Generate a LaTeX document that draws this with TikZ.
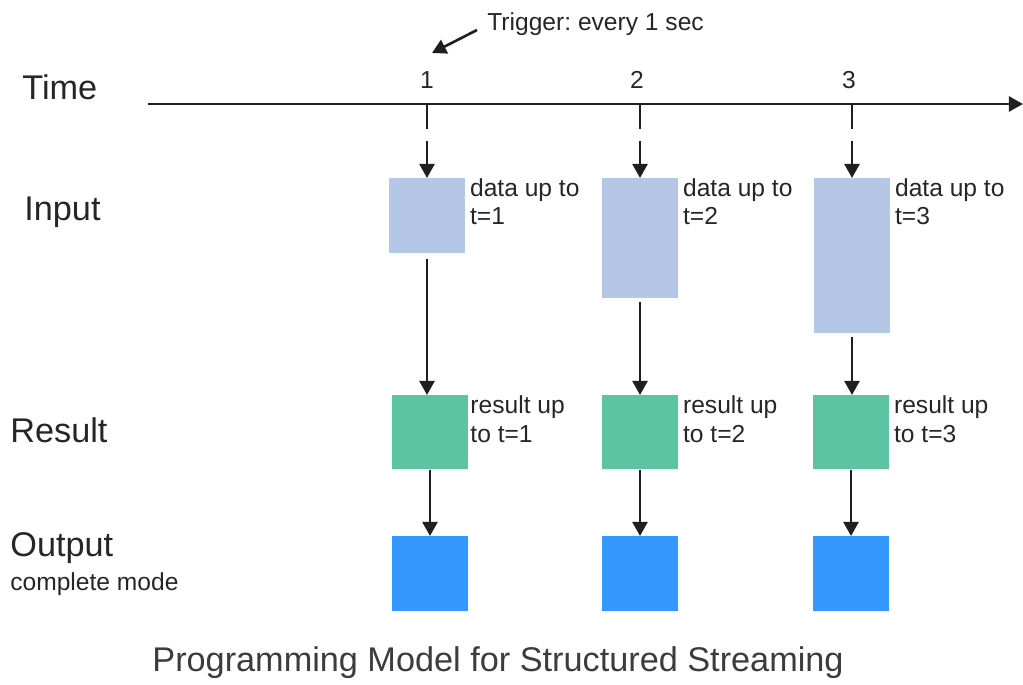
\documentclass[tikz,border=0pt]{standalone}
\usepackage{fontspec}
\setmainfont{Liberation Sans}
\frenchspacing
\usetikzlibrary{arrows.meta,positioning}

\definecolor{inblue}{HTML}{B4C7E7}
\definecolor{resgreen}{HTML}{5CC4A0}
\definecolor{outblue}{HTML}{3399FF}
\definecolor{txt}{HTML}{262626}

\tikzstyle{bigtext} = [text=txt, inner sep=0pt, font=\fontsize{19.5}{23}\selectfont]
\tikzstyle{smalltext} = [text=txt, inner sep=0pt, align=left, font=\fontsize{14}{16.4}\selectfont]
\tikzstyle{box} = [rectangle, minimum width=1.52cm, inner sep=0pt, anchor=north]
\tikzstyle{inbox} = [box, fill=inblue]
\tikzstyle{resbox} = [box, fill=resgreen, minimum height=1.48cm]
\tikzstyle{outbox} = [box, fill=outblue, minimum height=1.5cm]
\tikzstyle{arrow} = [line width=1.5pt, black!88, -{Triangle[length=8pt,width=8.5pt]}]
\tikzstyle{trigarrow} = [arrow, dash pattern={on 14pt off 7pt on 40pt}]

\begin{document}
\begin{tikzpicture}[x=0.02cm, y=-0.02cm]
\useasboundingbox (0,0) rectangle (1023,684);

% row labels
\node[bigtext, anchor=west] (ltime) at (22,87) {Time};
\node[bigtext, anchor=west] (linput) at (24,212) {Input};
\node[bigtext, anchor=west] (lresult) at (10,430) {Result};
\node[bigtext, anchor=west] (loutput) at (10,548) {Output};
\node[smalltext, anchor=west] (lmode) at (10,584) {complete mode};

% time axis
\coordinate (tstart) at (148,104);
\coordinate (tend) at (1023,104);
\draw[arrow] (tstart) -- (tend);
\coordinate (t1) at (427,104);
\coordinate (t2) at (640,104);
\coordinate (t3) at (852,104);
\node[smalltext] (n1) at (427,80) {1};
\node[smalltext] (n2) at (637,80) {2};
\node[smalltext] (n3) at (849,80) {3};

% trigger note
\node[smalltext, anchor=west] (trig) at (487,24) {Trigger: every 1 sec};
\coordinate (trigtail) at (477,30);
\coordinate (trighead) at (432,53);
\draw[arrow] (trigtail) -- (trighead);

% input
\node[inbox, minimum height=1.5cm] (in1) at (427,178) {};
\node[inbox, minimum height=2.4cm] (in2) at (640,178) {};
\node[inbox, minimum height=3.1cm] (in3) at (852,178) {};
\node[smalltext, anchor=north west, xshift=2.5pt] (din1) at (in1.north east) {data up to\\t=1};
\node[smalltext, anchor=north west, xshift=2.5pt] (din2) at (in2.north east) {data up to\\t=2};
\node[smalltext, anchor=north west, xshift=2.5pt] (din3) at (in3.north east) {data up to\\t=3};

% result
\node[resbox] (res1) at (430,395) {};
\node[resbox] (res2) at (640,395) {};
\node[resbox] (res3) at (851,395) {};
\node[smalltext, anchor=north west, xshift=1pt] (dres1) at (res1.north east) {result up\\to t=1};
\node[smalltext, anchor=north west, xshift=2.5pt] (dres2) at (res2.north east) {result up\\to t=2};
\node[smalltext, anchor=north west, xshift=2.5pt] (dres3) at (res3.north east) {result up\\to t=3};

% output
\node[outbox] (out1) at (430,536) {};
\node[outbox] (out2) at (640,536) {};
\node[outbox] (out3) at (851,536) {};

% connectors
\draw[trigarrow] (t1) -- (in1.north);
\draw[trigarrow] (t2) -- (in2.north);
\draw[trigarrow] (t3) -- (in3.north);
\draw[arrow, shorten <=3pt] (in1.south) -- (in1.south |- res1.north);
\draw[arrow, shorten <=2pt] (in2.south) -- (in2.south |- res2.north);
\draw[arrow, shorten <=2pt] (in3.south) -- (in3.south |- res3.north);
\draw[arrow] (res1.south) -- (out1.north);
\draw[arrow] (res2.south) -- (out2.north);
\draw[arrow] (res3.south) -- (out3.north);

% title
\node[bigtext, text=txt!90] (title) at (498,663) {Programming Model for Structured Streaming};
\end{tikzpicture}
\end{document}
